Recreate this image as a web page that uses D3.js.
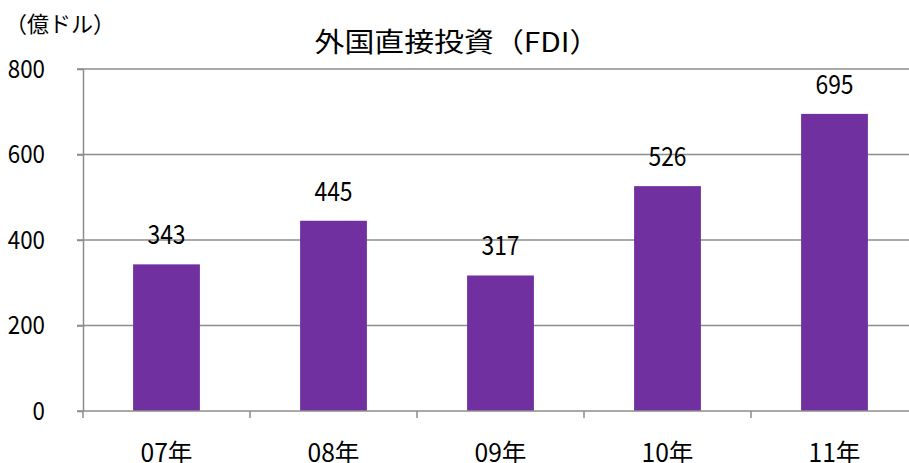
<!DOCTYPE html>
<head>
	<meta charset="utf-8">
	<title>外国直接投資（FDI）</title>
	<script src="https://cdn.jsdelivr.net/npm/d3@7"></script>
	<style>
		body { margin: 0; background: white; }
		text { font-family: 'Noto Sans CJK JP', 'Noto Sans', sans-serif; fill: black; }
		.grid line { stroke: #8c8c8c; stroke-width: 1.5px; }
		.axis path, .axis line { stroke: #8c8c8c; stroke-width: 1.5px; }
	</style>
</head>
<body>
	<script>
		var years = ["07年", "08年", "09年", "10年", "11年"];
		var fdi = [343, 445, 317, 526, 695];
		var yTicks = [0, 200, 400, 600, 800];

		var width = 909;
		var height = 463;
		var plotLeft = 83, plotRight = 918, plotTop = 69, plotBottom = 411;

		var svg = d3.select("body")
			.append("svg")
			.attr("width", width)
			.attr("height", height);

		var x = d3.scaleBand()
			.domain(years)
			.range([plotLeft, plotRight])
			.paddingInner(0.6)
			.paddingOuter(0.3);

		var band = d3.scaleBand().domain(years).range([plotLeft, plotRight]);

		var y = d3.scaleLinear()
			.domain([0, 800])
			.range([plotBottom, plotTop]);

		// narrow digits like the original chart font
		function narrow(sel, perChar) {
			sel.each(function() {
				var t = d3.select(this);
				t.attr("textLength", t.text().length * perChar)
					.attr("lengthAdjust", "spacingAndGlyphs");
			});
		}

		// gridlines
		svg.append("g")
			.attr("class", "grid")
			.selectAll("line")
			.data(yTicks.slice(1))
			.enter().append("line")
				.attr("x1", plotLeft - 6)
				.attr("x2", width)
				.attr("y1", function(d) { return y(d); })
				.attr("y2", function(d) { return y(d); });

		// bars
		svg.append("g").selectAll("rect")
			.data(fdi)
			.enter().append("rect")
				.attr("x", function(d, i) { return x(years[i]); })
				.attr("y", function(d) { return y(d); })
				.attr("width", x.bandwidth())
				.attr("height", function(d) { return plotBottom - y(d); })
				.attr("fill", "#7030a0");

		// value labels
		svg.append("g").selectAll("text")
			.data(fdi)
			.enter().append("text")
				.attr("x", function(d, i) { return x(years[i]) + x.bandwidth() / 2; })
				.attr("y", function(d) { return y(d) - 20; })
				.attr("text-anchor", "middle")
				.style("font-size", "27px")
				.text(function(d) { return d; })
				.call(narrow, 12.7);

		// y axis
		var yAxis = svg.append("g")
			.attr("class", "axis")
			.attr("transform", "translate(" + plotLeft + ",0)")
			.call(d3.axisLeft(y).tickValues(yTicks).tickSize(6).tickSizeOuter(0).tickPadding(32));
		yAxis.selectAll("text")
			.style("font-size", "25px")
			.style("font-family", "'Noto Sans CJK JP', sans-serif")
			.call(narrow, 12.4);

		// x axis with ticks at band edges
		var xAxis = svg.append("g")
			.attr("class", "axis")
			.attr("transform", "translate(0," + plotBottom + ")");
		xAxis.append("line")
			.attr("x1", plotLeft - 6).attr("x2", width);
		xAxis.selectAll("line.tick")
			.data(years.concat([null]))
			.enter().append("line")
				.attr("class", "tick")
				.attr("x1", function(d, i) { return plotLeft + i * band.bandwidth(); })
				.attr("x2", function(d, i) { return plotLeft + i * band.bandwidth(); })
				.attr("y1", 0).attr("y2", 7);
		xAxis.selectAll("text")
			.data(years)
			.enter().append("text")
				.attr("x", function(d) { return band(d) + band.bandwidth() / 2; })
				.attr("y", 51)
				.attr("text-anchor", "middle")
				.style("font-size", "25px")
				.text(function(d) { return d; })
				.attr("textLength", 52)
				.attr("lengthAdjust", "spacingAndGlyphs");

		// title and unit
		svg.append("text")
			.attr("x", 457)
			.attr("y", 52)
			.attr("text-anchor", "middle")
			.style("font-size", "27px")
			.attr("textLength", 285)
			.attr("lengthAdjust", "spacingAndGlyphs")
			.text("外国直接投資（FDI）");

		svg.append("text")
			.attr("x", 5)
			.attr("y", 32)
			.style("font-size", "22px")
			.attr("textLength", 110)
			.attr("lengthAdjust", "spacingAndGlyphs")
			.text("（億ドル）");
	</script>
</body>
